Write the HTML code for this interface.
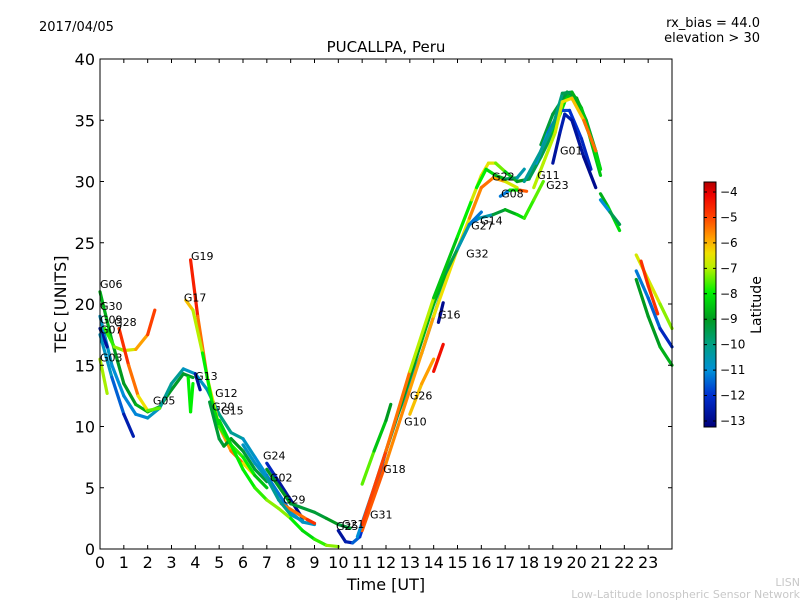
<!DOCTYPE html>
<html><head><meta charset="utf-8"><style>
body{margin:0;background:#fff;font-family:"Liberation Sans","DejaVu Sans",sans-serif}
svg text{font-family:"DejaVu Sans","Liberation Sans",sans-serif}
</style></head><body>
<svg id="chart" width="800" height="600" viewBox="0 0 800 600" xmlns="http://www.w3.org/2000/svg">
<rect width="800" height="600" fill="#fff"/>
<text x="39" y="31" font-size="13">2017/04/05</text>
<text x="760" y="27" font-size="13" text-anchor="end">rx_bias = 44.0</text>
<text x="760" y="42" font-size="13" text-anchor="end">elevation &gt; 30</text>
<text x="386" y="52" font-size="15" text-anchor="middle">PUCALLPA, Peru</text>
<text x="386" y="590" font-size="16" text-anchor="middle">Time [UT]</text>
<text transform="translate(66,304) rotate(-90)" font-size="16" text-anchor="middle">TEC [UNITS]</text>
<g id="tracks"></g>
<g id="labels"></g>
<rect x="100" y="59" width="572" height="490" fill="none" stroke="#000" stroke-width="1"/>
<g id="axes"></g>
<defs><linearGradient id="jet" x1="0" y1="1" x2="0" y2="0">
<stop offset="0" stop-color="#00007a"/><stop offset="0.13" stop-color="#0030d0"/><stop offset="0.23" stop-color="#0090d8"/><stop offset="0.34" stop-color="#00a080"/><stop offset="0.44" stop-color="#009a20"/><stop offset="0.55" stop-color="#00f000"/><stop offset="0.65" stop-color="#b8f000"/><stop offset="0.71" stop-color="#f0e000"/><stop offset="0.77" stop-color="#ffa000"/><stop offset="0.86" stop-color="#ff4000"/><stop offset="0.95" stop-color="#ee0000"/><stop offset="1" stop-color="#b00000"/>
</linearGradient></defs>
<rect x="704" y="182" width="12" height="245" fill="url(#jet)" stroke="#000" stroke-width="1"/>
<g id="cbticks"></g>
<text transform="translate(761,305) rotate(-90)" font-size="14" text-anchor="middle">Latitude</text>
<text x="800" y="586" font-size="11" fill="#c8c8c8" text-anchor="end">LISN</text>
<text x="800" y="598" font-size="11" fill="#c8c8c8" text-anchor="end">Low-Latitude Ionospheric Sensor Network</text>
</svg>
<script>
const xTicks=[0,1,2,3,4,5,6,7,8,9,10,11,12,13,14,15,16,17,18,19,20,21,22,23];
const yTicks=[0,5,10,15,20,25,30,35,40];
const cbTicks=[-4,-5,-6,-7,-8,-9,-10,-11,-12,-13];
// each track: points [hour, tec, latitude]
const trkA=[[0,21,-8.5],[0.5,17,-9],[1,13.5,-9],[1.5,11.8,-9],[2,11.2,-8.5],[2.5,11.6,-9],[3,13,-9],[3.5,14.3,-9.2],[3.9,14,-9]];
const trkB=[[0,19,-10.5],[0.5,15,-11],[1,12.5,-11],[1.5,11,-11.2],[2,10.7,-11],[2.5,11.5,-10.5],[3,13.5,-10],[3.5,14.7,-10.5],[4,14.3,-11],[4.5,13,-10.5],[5,11,-10],[5.5,9.5,-10],[6,9,-10.5],[6.5,7.5,-11],[7,6,-11],[7.5,4.5,-11.5],[8,3,-11],[8.5,2.2,-11],[9,2,-10.5]];
const trkC=[[0,18,-12.5],[0.3,16.5,-13]];
const trkD=[[0,15.5,-7],[0.3,12.7,-7.2]];
const trkE=[[0,17.5,-10.5],[0.5,14,-11],[1,11,-12],[1.4,9.2,-13]];
const trkF=[[0.2,18,-8],[0.6,16.5,-7.5],[1,16.2,-7],[1.5,16.3,-6.5],[2,17.5,-5.5],[2.3,19.5,-4.5]];
const trkG=[[0.8,18,-4.5],[1.2,15,-5],[1.6,12.5,-6],[2,11.3,-7],[2.5,11.5,-8]];
const trkH=[[3.8,23.6,-4],[4.1,19,-5],[4.5,14,-6],[5,10,-7],[5.5,8,-5],[6,7,-6],[6.5,6,-7]];
const trkI=[[3.6,20.3,-6],[3.9,19.5,-6.5],[4.3,16,-7.5],[4.7,12,-8.5],[5,10,-8],[5.5,8.5,-7.5],[6,7.5,-8],[6.5,6,-8],[7,5,-9]];
const trkJ=[[4,14.3,-13],[4.2,13,-12.5]];
const trkK=[[3.7,14,-8],[3.8,11.2,-8],[3.9,13.5,-8]];
const trkL=[[4.6,12,-9],[5,9,-9.5],[5.2,8.4,-9],[5.5,9,-9],[6,8,-9],[6.5,6.5,-9.5],[7,5.5,-9]];
const trkM=[[5,10.5,-8.5],[5.5,8.5,-8],[6,6.5,-8],[6.5,5,-8],[7,4,-7.5],[7.5,3.3,-7],[8,2.5,-7.5],[8.5,1.5,-8.5],[9,0.8,-8],[9.5,0.3,-7.5],[10,0.2,-7]];
const trkN=[[7,7,-12],[7.5,5.5,-12.5],[8,4,-13],[8.5,2.5,-13]];
const trkO=[[7.6,3.7,-5],[8.2,3,-6],[8.7,2.4,-5],[9,2.1,-4.5]];
const trkP=[[7,6.5,-9],[8,3.7,-9],[9,3,-9.5],[9.5,2.5,-9],[10,2,-9],[10.5,1.7,-9.5]];
const trkQ=[[10,1.5,-12.5],[10.3,0.6,-13],[10.6,0.5,-12],[10.9,1,-11],[11,2,-10]];
const trkR=[[11,5.3,-7],[11.5,8,-8],[12,10.5,-9],[12.2,11.8,-9]];
const trkS=[[10.8,1,-11],[11.5,5,-11],[12,8,-10],[12.5,11,-9],[13,14,-9],[13.5,17,-9],[14,20,-8.5],[14.5,22.5,-9],[15,24.5,-10],[15.5,26.5,-11],[15.9,27,-11.5],[16.5,27.3,-9.5],[17,27.7,-9],[17.5,27.3,-8.5],[17.8,27,-8],[18.2,28.5,-7.5],[18.6,30,-7.5]];
const trkT=[[11,2,-5],[12,8,-5],[13,14.5,-6],[14,20.5,-8],[15,25.5,-9],[15.6,28.5,-7],[16,30.5,-6.5],[16.3,31.5,-6.5],[16.6,31.5,-6.8],[17,30.8,-8],[17.5,30,-9],[18,30.2,-9],[18.5,32,-10],[19,34,-9],[19.4,36,-8],[19.6,37,-8.5],[20,36.5,-8.5],[20.5,34,-9],[21,30.5,-8]];
const trkU=[[19,31.5,-13],[19.3,34,-12.5],[19.5,35.5,-12.5],[19.8,35,-12.5],[20.3,32,-13],[20.8,29.5,-13]];
const trkV=[[17.8,30,-10],[18.5,32.5,-10.5],[19,34.5,-10],[19.4,37.2,-10],[19.8,37.3,-9],[20.2,36,-8.5],[20.7,33,-8.5],[21,31,-8]];
const trkW=[[18.2,29.5,-7],[18.6,31.5,-7],[19.1,34,-7],[19.4,36.5,-6.5],[19.8,36.8,-6.5],[20.3,35,-6],[20.8,32.5,-5]];
const trkX=[[16.8,28.8,-12.5],[17.2,29.3,-10],[17.6,29.3,-6],[17.9,29.2,-4.5]];
const trkY=[[14,14.5,-4.5],[14.4,16.7,-4]];
const trkZ=[[13,11,-6.5],[13.5,13.5,-6],[14,15.5,-6]];
const trkAA=[[14.2,18.5,-13],[14.4,20.1,-13]];
const trkAB=[[21,29,-9],[21.3,28,-8.5],[21.8,26,-8]];
const trkAC=[[21,28.5,-12],[21.4,27.5,-10],[21.8,26.5,-9]];
const trkAD=[[22.5,24,-7],[23,22,-6.5],[23.5,20,-7],[24,18,-7.5]];
const trkAE=[[22.5,22,-9],[23,19,-9],[23.5,16.5,-9],[24,15,-8.5]];
const trkAF=[[22.5,22.7,-11.5],[23,20.5,-11],[23.5,18,-12],[24,16.5,-12.5]];
const trkAG=[[22.7,23.5,-4.5],[23,21.5,-5],[23.4,19.2,-4.5]];
const trkAH=[[10.9,1,-12],[11.5,4.5,-12],[12,8,-11],[12.5,11,-10.5],[13,13.5,-11],[13.5,16,-11],[14,19,-11],[14.5,22,-10.5],[15,24.5,-11],[15.5,26.5,-11.5],[16,27.5,-11]];
const trkAI=[[11,1.5,-5],[12,7,-5.5],[13,13,-6],[14,19,-6],[15,24.5,-7],[15.5,27,-6],[16,29.5,-5.5],[16.5,30.3,-5.5],[17,30,-6.5],[17.5,29.5,-7]];
const trkAJ=[[15.8,29.5,-8],[16.2,31,-8],[16.6,30.5,-8.5],[17,30.2,-9],[17.5,30.3,-10],[17.8,31,-11]];
const trkAK=[[18.5,33,-9.5],[19,35.5,-9],[19.6,37.3,-9.5],[20,36.8,-9],[20.4,35,-9],[20.8,32.5,-9.5],[21,31,-9]];
const trkAL=[[18.3,31.5,-11],[18.8,34,-11],[19.3,35.8,-11.5],[19.7,35.8,-12],[20.2,33.5,-12],[20.6,31,-12.5]];
const trkAM=[[6,8.5,-10.5],[6.5,7,-11],[7,5.8,-10.5],[7.5,4,-10],[8,2.8,-10.5],[8.5,2.3,-11]];
const tracks=[trkA,trkB,trkC,trkD,trkE,trkF,trkG,trkH,trkI,trkJ,trkK,trkL,trkM,trkN,trkO,trkP,trkQ,trkR,trkAH,trkAI,trkS,trkT,trkAJ,trkAK,trkAL,trkU,trkV,trkW,trkX,trkY,trkZ,trkAA,trkAB,trkAC,trkAD,trkAE,trkAF,trkAG,trkAM];
const labelNames=["G06","G30","G09","G28","G07","G03","G19","G17","G13","G12","G05","G20","G15","G24","G02","G29","G25","G21","G31","G18","G10","G26","G16","G32","G27","G14","G22","G08","G11","G23","G01"];
const labelT=[0,0,0,0.59,0,0,3.82,3.52,3.99,4.83,2.22,4.7,5.08,6.84,7.13,7.68,9.9,10.15,11.33,11.88,12.76,13.0,14.18,15.36,15.57,15.95,16.45,16.83,18.34,18.72,19.3];
const labelTec=[21.3,19.5,18.4,18.2,17.6,15.3,23.6,20.2,13.8,12.4,11.8,11.3,11.0,7.3,5.5,3.7,1.55,1.7,2.5,6.2,10.1,12.2,18.8,23.8,26.1,26.5,30.1,28.7,30.2,29.4,32.2];

const X=t=>100+t*572/24, Y=v=>549-v*12.25;
const NS="http://www.w3.org/2000/svg";
const stops=[[-13.3,[0,0,122]],[-12,[0,48,208]],[-11,[0,144,216]],[-10,[0,160,128]],[-9,[0,154,32]],[-8,[0,240,0]],[-7,[184,240,0]],[-6.5,[240,224,0]],[-6,[255,160,0]],[-5,[255,64,0]],[-4,[238,0,0]],[-3.6,[176,0,0]]];
function col(l){if(l<=stops[0][0])return "rgb("+stops[0][1]+")";for(let i=1;i<stops.length;i++){if(l<=stops[i][0]){const a=stops[i-1],b=stops[i],f=(l-a[0])/(b[0]-a[0]);return "rgb("+a[1].map((c,k)=>Math.round(c+(b[1][k]-c)*f)).join(",")+")";}}return "rgb("+stops[stops.length-1][1]+")";}
const tg=document.getElementById('tracks');
tracks.forEach((tr,ti)=>{for(let i=1;i<tr.length;i++){const p=tr[i-1],q=tr[i];const ln=document.createElementNS(NS,'line');


ln.setAttribute('x1',X(p[0]));ln.setAttribute('y1',Y(p[1]));ln.setAttribute('x2',X(q[0]));ln.setAttribute('y2',Y(q[1]));
ln.setAttribute('stroke',col((p[2]+q[2])/2));ln.setAttribute('stroke-width','3.2');ln.setAttribute('stroke-linecap','round');tg.appendChild(ln);}});
const lg=document.getElementById('labels');
labelNames.forEach((n,i)=>{const t=document.createElementNS(NS,'text');


t.setAttribute('x',X(labelT[i]));t.setAttribute('y',Y(labelTec[i]));t.setAttribute('font-size','11');t.textContent=n;lg.appendChild(t);});
const ag=document.getElementById('axes');
xTicks.forEach(v=>{const x=X(v);
const l=document.createElementNS(NS,'path');


l.setAttribute('d',`M${x} 549v-4M${x} 59v4`);l.setAttribute('stroke','#000');ag.appendChild(l);
const t=document.createElementNS(NS,'text');


t.setAttribute('x',x);t.setAttribute('y',568);t.setAttribute('font-size','16');t.setAttribute('text-anchor','middle');t.textContent=v;ag.appendChild(t);});
yTicks.forEach(v=>{const y=Y(v);
const l=document.createElementNS(NS,'path');


l.setAttribute('d',`M100 ${y}h4M672 ${y}h-4`);l.setAttribute('stroke','#000');ag.appendChild(l);
const t=document.createElementNS(NS,'text');


t.setAttribute('x',95);t.setAttribute('y',y+6);t.setAttribute('font-size','16');t.setAttribute('text-anchor','end');t.textContent=v;ag.appendChild(t);});
const cg=document.getElementById('cbticks');
cbTicks.forEach(v=>{const y=192+(-4-v)*25.44;
const l=document.createElementNS(NS,'path');


l.setAttribute('d',`M704 ${y}h3M716 ${y}h-3`);l.setAttribute('stroke','#000');cg.appendChild(l);
const t=document.createElementNS(NS,'text');


t.setAttribute('x',720);t.setAttribute('y',y+4);t.setAttribute('font-size','12');t.textContent='\u2212'+Math.abs(v);cg.appendChild(t);});
</script>
</body></html>
